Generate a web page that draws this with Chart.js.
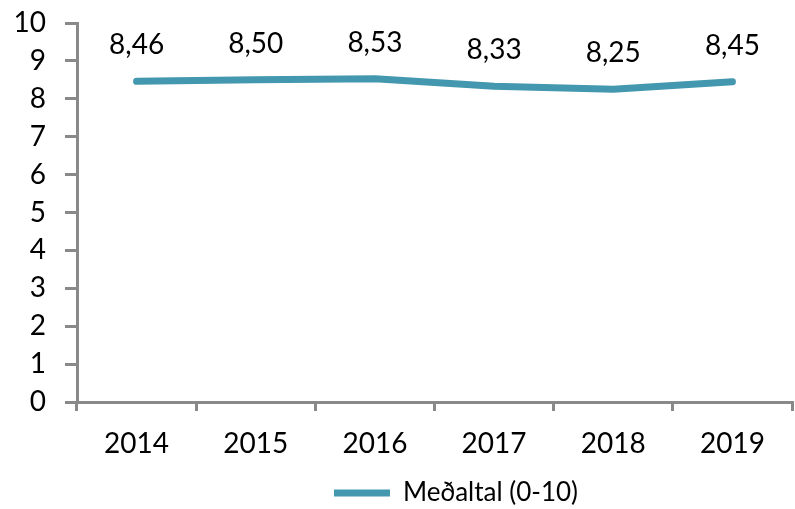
<!DOCTYPE html>
<html>
<head>
<meta charset="utf-8">
<script src="https://cdn.jsdelivr.net/npm/chart.js@4/dist/chart.umd.min.js"></script>
<style>
  html, body { margin: 0; padding: 0; background: #fff; }
  #wrap { width: 795px; height: 509px; }
</style>
</head>
<body>
<div id="wrap"><canvas id="chart"></canvas></div>
<script>
const years = ['2014', '2015', '2016', '2017', '2018', '2019']
const averages = [8.46, 8.50, 8.53, 8.33, 8.25, 8.45]
const seriesLabel = 'Meðaltal (0-10)'

const axisColor = '#898989'
const lineColor = '#4397AE'
const fontFamily = 'Lato, "Open Sans", sans-serif'

// value labels above each point, comma decimal
const valueLabels = {
  id: 'valueLabels',
  afterDatasetsDraw(chart) {
    const ctx = chart.ctx
    const meta = chart.getDatasetMeta(0)
    ctx.save()
    ctx.font = '28px ' + fontFamily
    ctx.fillStyle = '#000'
    ctx.textAlign = 'center'
    ctx.textBaseline = 'middle'
    meta.data.forEach((pt, i) => {
      const txt = averages[i].toFixed(2).replace('.', ',')
      ctx.fillText(txt, pt.x, pt.y - 36)
    })
    ctx.restore()
  }
}

// nudge the legend right and down like the original
const legendShift = {
  id: 'legendShift',
  afterLayout(chart) {
    const lg = chart.legend
    if (!lg) return
    lg.left += 60
    lg.right += 60
    lg.top += 7
    lg.bottom += 7
  }
}

new Chart(document.getElementById('chart'), {
  type: 'line',
  data: {
    labels: years,
    datasets: [
      {
        label: seriesLabel,
        data: averages,
        borderColor: lineColor,
        backgroundColor: lineColor,
        borderWidth: 7,
        borderCapStyle: 'round',
        borderJoinStyle: 'round',
        pointRadius: 0,
        pointHoverRadius: 0,
        tension: 0,
        fill: false
      }
    ]
  },
  options: {
    responsive: true,
    maintainAspectRatio: false,
    animation: false,
    events: [],
    layout: {
      padding: { top: 23, right: 3, left: 0, bottom: 0 }
    },
    scales: {
      x: {
        offset: true,
        grid: {
          offset: true,
          drawOnChartArea: false,
          drawTicks: true,
          tickLength: 9,
          color: axisColor,
          lineWidth: 3
        },
        border: { color: axisColor, width: 3 },
        ticks: {
          color: '#000',
          padding: 16,
          font: { family: fontFamily, size: 28 }
        },
        afterFit(scale) { scale.height = 68 }
      },
      y: {
        min: 0,
        max: 10,
        grid: {
          drawOnChartArea: false,
          drawTicks: true,
          tickLength: 12,
          color: axisColor,
          lineWidth: 3
        },
        border: { color: axisColor, width: 3 },
        ticks: {
          stepSize: 1,
          autoSkip: false,
          color: '#000',
          padding: 19,
          font: { family: fontFamily, size: 28 }
        },
        afterFit(scale) {
          scale.width = 77
          scale.paddingTop = 0
          scale.paddingBottom = 0
        }
      }
    },
    plugins: {
      legend: {
        display: true,
        position: 'bottom',
        labels: {
          usePointStyle: true,
          pointStyle: 'line',
          pointStyleWidth: 56,
          color: '#000',
          padding: 3,
          font: { family: fontFamily, size: 26 }
        }
      },
      tooltip: { enabled: false }
    }
  },
  plugins: [valueLabels, legendShift]
})
</script>
</body>
</html>
